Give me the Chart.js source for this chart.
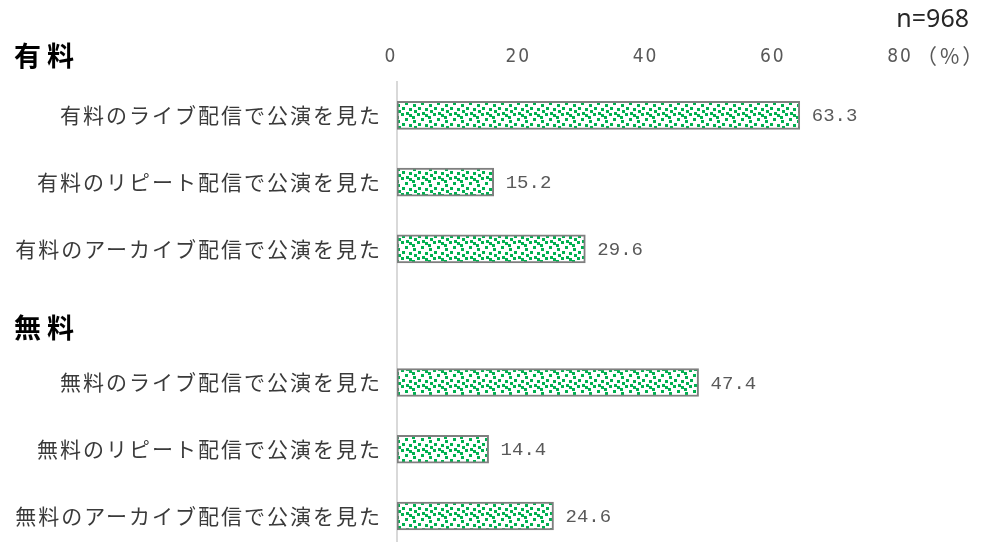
<!DOCTYPE html>
<html>
<head>
<meta charset="utf-8">
<script src="https://cdn.jsdelivr.net/npm/chart.js@4"></script>
<style>
  html, body { margin: 0; padding: 0; background: #fff; overflow: hidden; }
  #wrap { position: relative; width: 982px; height: 577px; }
</style>
</head>
<body>
<div id="wrap"><canvas id="c"></canvas></div>
<script>
// rows of the chart, '' is the gap row before the second group
const categories = [
  '有料のライブ配信で公演を見た',
  '有料のリピート配信で公演を見た',
  '有料のアーカイブ配信で公演を見た',
  '',
  '無料のライブ配信で公演を見た',
  '無料のリピート配信で公演を見た',
  '無料のアーカイブ配信で公演を見た'
];
const values = [63.3, 15.2, 29.6, null, 47.4, 14.4, 24.6];
const groupTitles = ['有料', '無料'];
const groupRows = [0, 3]; // 0 = top of chart, 3 = gap row
const xTicks = [0, 20, 40, 60, 80];
const sampleSize = 'n=968';
const unitLabel = '（%）';

// confetti style fill like the Excel pattern
function confetti() {
  const n = 16;
  const tile = document.createElement('canvas');
  tile.width = n; tile.height = n;
  const t = tile.getContext('2d');
  t.fillStyle = '#ffffff';
  t.fillRect(0, 0, n, n);
  t.fillStyle = '#00b050';
  [[1, 1], [9, 2], [5, 6], [13, 8], [2, 11], [9, 12], [14, 14], [6, 0], [12, 4]].forEach(p => {
    t.fillRect(p[0], p[1], 3, 3);
    t.fillRect(p[0] - n, p[1], 3, 3);
    t.fillRect(p[0], p[1] - n, 3, 3);
    t.fillRect(p[0] - n, p[1] - n, 3, 3);
  });
  return t.createPattern(tile, 'repeat');
}

const extras = {
  id: 'extras',
  beforeDraw(chart) {
    chart.ctx.letterSpacing = '2px';
  },
  afterDatasetsDraw(chart) {
    const ctx = chart.ctx;
    const meta = chart.getDatasetMeta(0);
    ctx.save();
    ctx.letterSpacing = '0px';
    // values next to bars
    ctx.font = '19px "Liberation Mono"';
    ctx.fillStyle = '#595959';
    ctx.textBaseline = 'middle';
    ctx.textAlign = 'left';
    meta.data.forEach((bar, i) => {
      if (values[i] == null) return;
      ctx.fillText(values[i].toFixed(1), bar.x + 12, bar.y + 1);
    });
    // group titles
    const y = chart.scales.y;
    const x = chart.scales.x;
    ctx.font = 'bold 27px "Noto Sans CJK JP"';
    ctx.fillStyle = '#000';
    ctx.letterSpacing = '6px';
    groupTitles.forEach((g, i) => {
      const row = groupRows[i];
      const gy = row === 0 ? 56 : y.getPixelForValue(row) + 12;
      ctx.fillText(g, 14, gy);
    });
    // unit and sample size
    ctx.letterSpacing = '3px';
    ctx.font = '21px "Noto Sans CJK JP"';
    ctx.fillStyle = '#595959';
    ctx.fillText(unitLabel, x.right + 10, 56);
    ctx.letterSpacing = '0px';
    ctx.font = '25px "Noto Sans", sans-serif';
    ctx.fillStyle = '#262626';
    ctx.textAlign = 'right';
    ctx.fillText(sampleSize, 969, 20);
    ctx.restore();
  }
};

new Chart(document.getElementById('c'), {
  type: 'bar',
  data: {
    labels: categories,
    datasets: [{
      data: values,
      backgroundColor: confetti(),
      borderColor: '#7f7f7f',
      borderWidth: 2,
      borderSkipped: false,
      barThickness: 28
    }]
  },
  options: {
    indexAxis: 'y',
    responsive: true,
    maintainAspectRatio: false,
    animation: false,
    layout: { padding: { left: 0, right: 76, top: 0, bottom: 0 } },
    scales: {
      x: {
        position: 'top',
        min: 0,
        max: 80,
        afterBuildTicks: s => { s.ticks = xTicks.map(v => ({ value: v })); },
        afterFit: s => { s.height = 82; },
        grid: { display: false, drawTicks: false },
        border: { display: false },
        ticks: {
          padding: 14,
          labelOffset: -6,
          color: '#595959',
          font: { family: '"Liberation Sans Narrow", "DejaVu Sans Condensed"', size: 19 }
        }
      },
      y: {
        afterFit: s => { s.width = 397; },
        grid: { display: false, drawTicks: false },
        border: { display: true, color: '#d9d9d9', width: 2 },
        ticks: {
          padding: 15,
          color: '#3a3a3a',
          font: { family: '"Noto Sans CJK JP"', size: 21 }
        }
      }
    },
    plugins: {
      legend: { display: false },
      tooltip: { enabled: false }
    }
  },
  plugins: [extras]
});
</script>
</body>
</html>
